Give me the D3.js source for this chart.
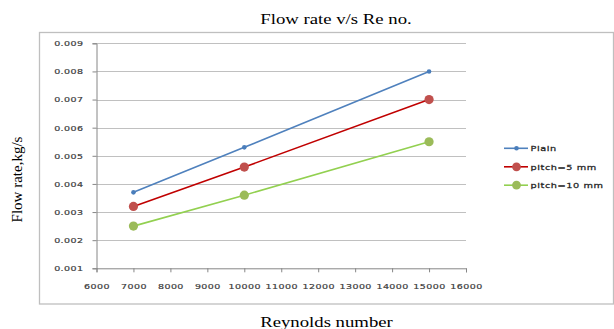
<!DOCTYPE html>
<html>
<head>
<meta charset="utf-8">
<script src="https://cdn.jsdelivr.net/npm/d3@7"></script>
<style>
  html, body { margin: 0; padding: 0; background: #fff; }
  svg { display: block; }
</style>
</head>
<body>
<svg id="chart" width="614" height="329"></svg>
<script>
// Reynolds numbers tested
const reynolds = [7000, 10000, 15000];

// Mass flow rate (kg/s) for each tube configuration
const plainFlow = [0.0037, 0.0053, 0.0080];
const pitch5Flow = [0.0032, 0.0046, 0.0070];
const pitch10Flow = [0.0025, 0.0036, 0.0055];

const seriesNames = ["Plain", "pitch=5 mm", "pitch=10 mm"];

// Axis ticks
const xTicks = [6000, 7000, 8000, 9000, 10000, 11000, 12000, 13000, 14000, 15000, 16000];
const yTicks = [0.001, 0.002, 0.003, 0.004, 0.005, 0.006, 0.007, 0.008, 0.009];

const titleText = "Flow rate v/s Re no.";
const xTitleText = "Reynolds number";
const yTitleText = "Flow rate,kg/s";

const series = [
  { name: seriesNames[0], values: plainFlow, line: "#4F81BD", fill: "#4A7EBB", r: 2.3, lr: 2.3 },
  { name: seriesNames[1], values: pitch5Flow, line: "#C00000", fill: "#C0504D", r: 4.6, lr: 4.4 },
  { name: seriesNames[2], values: pitch10Flow, line: "#92D050", fill: "#9BBB59", r: 4.6, lr: 4.4 }
];

const svg = d3.select("#chart");
const stretch = 1.25; // text is drawn horizontally widened
const sans = "'DejaVu Sans', Verdana, sans-serif";

const x = d3.scaleLinear().domain([6000, 16000]).range([96.5, 466]);
const y = d3.scaleLinear().domain([0.001, 0.009]).range([268.3, 43.3]);

// Outer chart frame
svg.append("rect")
  .attr("x", 39.5).attr("y", 32.5)
  .attr("width", 574).attr("height", 271.5)
  .attr("fill", "#fff")
  .attr("stroke", "#BFBFBF")
  .attr("stroke-width", 1.3);

// Horizontal gridlines
svg.append("g").selectAll("line")
  .data(yTicks.slice(1))
  .join("line")
  .attr("x1", x(6000)).attr("x2", x(16000))
  .attr("y1", d => Math.round(y(d)) + 0.5)
  .attr("y2", d => Math.round(y(d)) + 0.5)
  .attr("stroke", "#C0C0C0")
  .attr("stroke-width", 1);

function styleTickText(sel) {
  sel.attr("fill", "#3a3a3a")
    .attr("stroke", "#3a3a3a")
    .attr("stroke-width", 0.2)
    .style("font-family", sans)
    .style("font-size", "7.6px")
    .style("letter-spacing", "0.35px");
}

// Y axis
const yAxis = svg.append("g")
  .attr("transform", `translate(${x(6000)},0)`)
  .call(d3.axisLeft(y).tickValues(yTicks).tickSize(4).tickFormat(d3.format(".3f")));
yAxis.select(".domain").attr("stroke", "#868686");
yAxis.selectAll(".tick line").attr("stroke", "#868686");
yAxis.selectAll(".tick text")
  .attr("x", null)
  .attr("transform", `translate(-13,0) scale(${stretch},1)`)
  .attr("text-anchor", "end")
  .call(styleTickText);

// X axis
const xAxis = svg.append("g")
  .attr("transform", `translate(0,${y(0.001)})`)
  .call(d3.axisBottom(x).tickValues(xTicks).tickSize(4).tickFormat(d3.format("d")));
xAxis.select(".domain").attr("stroke", "#868686");
xAxis.selectAll(".tick line").attr("stroke", "#868686");
xAxis.selectAll(".tick text")
  .attr("y", null)
  .attr("dy", null)
  .attr("transform", `translate(0,20.7) scale(${stretch},1)`)
  .call(styleTickText);

// Series lines and markers
const line = d3.line()
  .x((d, i) => x(reynolds[i]))
  .y(d => y(d));

series.forEach(s => {
  svg.append("path")
    .datum(s.values)
    .attr("d", line)
    .attr("fill", "none")
    .attr("stroke", s.line)
    .attr("stroke-width", 1.6);
  svg.append("g").selectAll("circle")
    .data(s.values)
    .join("circle")
    .attr("cx", (d, i) => x(reynolds[i]))
    .attr("cy", d => y(d))
    .attr("r", s.r)
    .attr("fill", s.fill);
});

// Legend
const legend = svg.append("g");
const legendY = [148.3, 166.8, 185.2];
series.forEach((s, i) => {
  const g = legend.append("g").attr("transform", `translate(0,${legendY[i]})`);
  g.append("line")
    .attr("x1", 504).attr("x2", 528)
    .attr("stroke", s.line).attr("stroke-width", 1.6);
  g.append("circle")
    .attr("cx", 516.5).attr("r", s.lr)
    .attr("fill", s.fill);
  g.append("text")
    .attr("transform", `translate(530.5,3) scale(${stretch},1)`)
    .attr("fill", "#222")
    .attr("stroke", "#222")
    .attr("stroke-width", 0.25)
    .style("font-family", sans)
    .style("font-size", "7.8px")
    .style("letter-spacing", "0.45px")
    .text(s.name);
});

// Titles (serif)
const serif = "'Liberation Serif', 'Times New Roman', serif";
svg.append("text")
  .attr("transform", `translate(336,24) scale(${stretch},1)`)
  .attr("text-anchor", "middle")
  .style("font-family", serif)
  .style("font-size", "15px")
  .attr("fill", "#000")
  .text(titleText);

svg.append("text")
  .attr("transform", `translate(326.5,326.5) scale(${stretch},1)`)
  .attr("text-anchor", "middle")
  .style("font-family", serif)
  .style("font-size", "15px")
  .attr("fill", "#000")
  .text(xTitleText);

svg.append("text")
  .attr("transform", "translate(22,179.5) rotate(-90)")
  .attr("text-anchor", "middle")
  .style("font-family", serif)
  .style("font-size", "15px")
  .attr("fill", "#000")
  .text(yTitleText);
</script>
</body>
</html>
